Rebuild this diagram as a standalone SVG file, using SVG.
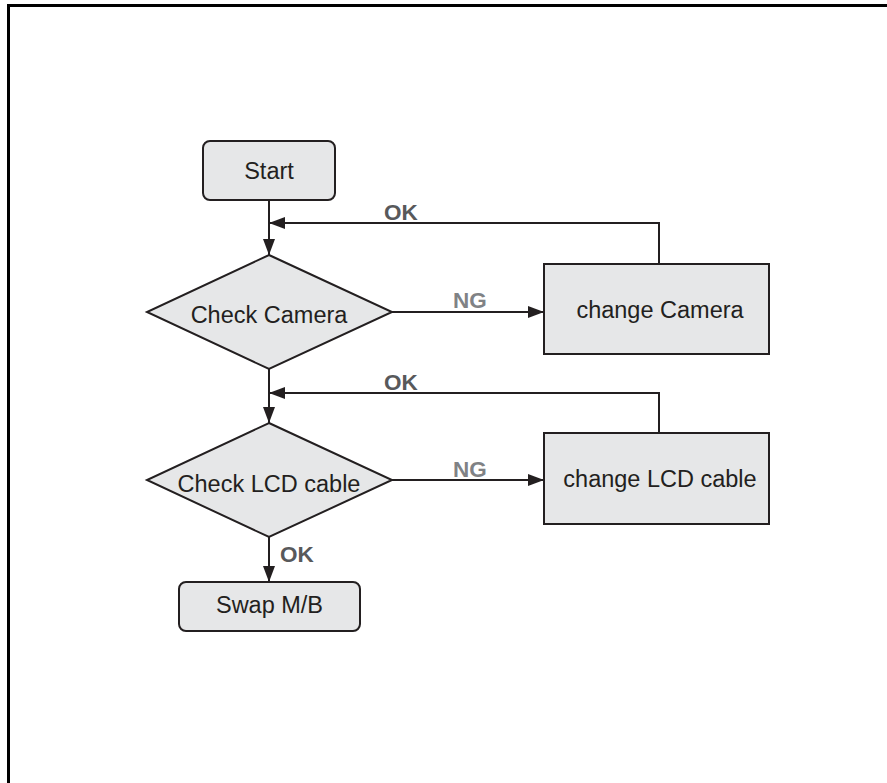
<svg xmlns="http://www.w3.org/2000/svg" width="887" height="783" viewBox="0 0 887 783">
<defs>
<marker id="ah" markerWidth="16" markerHeight="12" refX="16" refY="6" orient="auto" markerUnits="userSpaceOnUse">
<path d="M0,0 L16,6 L0,12 Z" fill="#231f20"/>
</marker>
<style>
.node{fill:#e6e7e8;stroke:#231f20;stroke-width:2}
.t{font-family:"Liberation Sans",Arial,sans-serif;font-size:23.5px;fill:#231f20;text-anchor:middle}
.lbl{font-family:"Liberation Sans",Arial,sans-serif;font-size:22.5px;font-weight:bold;fill:#58595b}
.ng{fill:#808285}
.c{fill:none;stroke:#231f20;stroke-width:2}
</style>
</defs>
<rect width="887" height="783" fill="#fff"/>
<path d="M8.5,783 V5.5 H887" fill="none" stroke="#000" stroke-width="3"/>
<g id="connectors">
<path class="c" d="M269,200 V255" marker-end="url(#ah)"/>
<path class="c" d="M659,264 V223 H269" marker-end="url(#ah)"/>
<path class="c" d="M392,312 H544" marker-end="url(#ah)"/>
<path class="c" d="M269,369 V423" marker-end="url(#ah)"/>
<path class="c" d="M659,433 V393 H269" marker-end="url(#ah)"/>
<path class="c" d="M392,480 H544" marker-end="url(#ah)"/>
<path class="c" d="M269,537 V582" marker-end="url(#ah)"/>
<text class="lbl" x="384" y="220">OK</text>
<text class="lbl ng" x="453" y="308">NG</text>
<text class="lbl" x="384" y="390">OK</text>
<text class="lbl ng" x="453" y="477">NG</text>
<text class="lbl" x="280" y="562">OK</text>
</g>
<g id="start">
<rect class="node" x="203" y="141" width="132" height="59" rx="7"/>
<text class="t" x="269" y="179">Start</text>
</g>
<g id="check-camera">
<polygon class="node" points="269,255 392,312 269,369 147,312"/>
<text class="t" x="269" y="323">Check Camera</text>
</g>
<g id="change-camera">
<rect class="node" x="544" y="264" width="225" height="90"/>
<text class="t" x="660" y="318">change Camera</text>
</g>
<g id="check-lcd">
<polygon class="node" points="269,423 392,480 269,537 147,480"/>
<text class="t" x="269" y="492">Check LCD cable</text>
</g>
<g id="change-lcd">
<rect class="node" x="544" y="433" width="225" height="91"/>
<text class="t" x="660" y="487">change LCD cable</text>
</g>
<g id="swap">
<rect class="node" x="179" y="582" width="181" height="49" rx="7"/>
<text class="t" x="269.5" y="613">Swap M/B</text>
</g>
</svg>
